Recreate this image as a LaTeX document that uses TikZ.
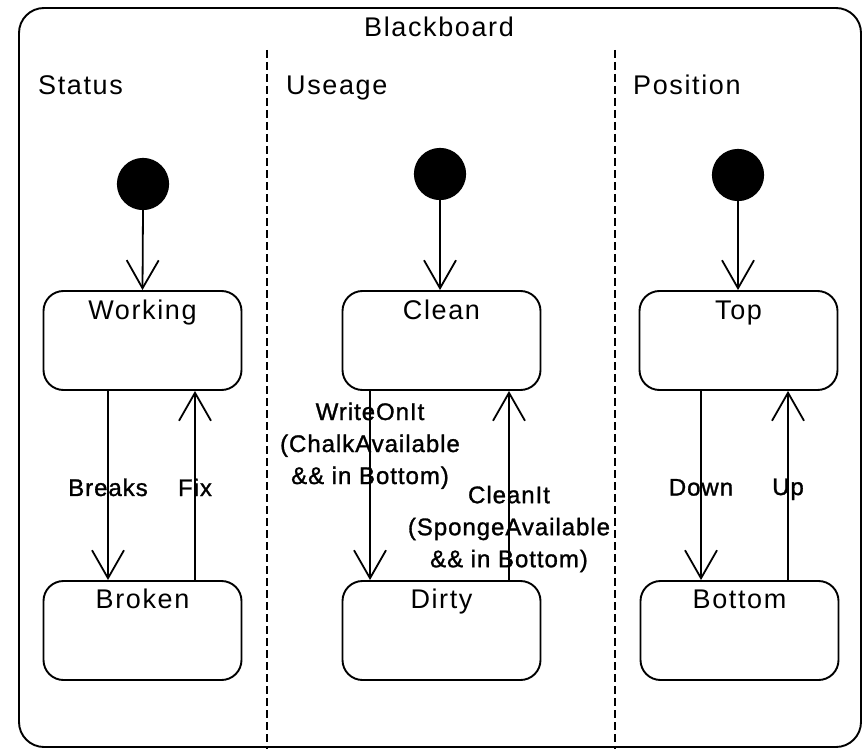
\documentclass[tikz,border=0pt]{standalone}
\usepackage{fontspec}
\setmainfont[LetterSpace=6]{Liberation Sans}
\newfontfamily\edgefont[FakeBold=1.2, LetterSpace=4]{Liberation Sans}
\usetikzlibrary{arrows.meta,calc}

\tikzset{
  frame/.style={draw, line width=1.9pt, rounded corners=25pt},
  divider/.style={draw, line width=1.5pt, dash pattern=on 8pt off 4pt},
  heading/.style={anchor=base west, inner sep=0pt, font=\fontsize{27}{32}\selectfont},
  title/.style={anchor=base, inner sep=0pt, font=\fontsize{27}{32}\selectfont},
  initstate/.style={circle, fill=black, draw=black, line width=1.2pt, minimum size=51pt, inner sep=0pt},
  statebox/.style={draw, line width=1.9pt, rounded corners=20pt, minimum width=198pt, minimum height=99pt, inner sep=0pt},
  stname/.style={anchor=base, inner sep=0pt, font=\fontsize{27}{32}\selectfont},
  trans/.style={draw, line width=1.8pt, -{Straight Barb[length=28pt, width=32pt, line width=1.8pt]}},
  tlabel/.style={inner sep=0pt, align=center, font=\edgefont\fontsize{24}{32}\selectfont},
}

\begin{document}
\begin{tikzpicture}[x=1pt, y=-1pt]
\useasboundingbox (0,0) rectangle (867,749);

% outer composite state
\draw[frame] (19,8) rectangle (861,747);
\node[title] (bbtitle) at (439,37) {Blackboard};

% region separators
\coordinate (d1top) at (267,50);
\coordinate (d1bot) at (267,749);
\coordinate (d2top) at (615,50);
\coordinate (d2bot) at (615,749);
\draw[divider] (d1top) -- (d1bot);
\draw[divider] (d2top) -- (d2bot);

% region headings
\node[heading] (hstatus) at (38,95) {Status};
\node[heading] (huse) at (286,95) {Useage};
\node[heading] (hpos) at (633,95) {Position};

% initial pseudo-states
\node[initstate] (i1) at (143,184) {};
\node[initstate] (i2) at (440,174) {};
\node[initstate] (i3) at (738,175) {};

% states
\node[statebox] (working) at (142.5,340.5) {};
\node[statebox] (broken)  at (142.5,630.5) {};
\node[statebox] (clean)   at (441.5,340.5) {};
\node[statebox] (dirty)   at (441.5,630.5) {};
\node[statebox] (top)     at (738.5,340.5) {};
\node[statebox] (bottom)  at (739.5,630.5) {};

\node[stname] (tworking) at ($(working.north)+(0,29)$) {Working};
\node[stname] (tbroken)  at ($(broken.north)+(0,28)$) {Broken};
\node[stname] (tclean)   at ($(clean.north)+(0,29)$) {Clean};
\node[stname] (tdirty)   at ($(dirty.north)+(0,28)$) {Dirty};
\node[stname] (ttop)     at ($(top.north)+(0,29)$) {Top};
\node[stname] (tbottom)  at ($(bottom.north)+(0,28)$) {Bottom};

% initial transitions
\draw[trans] (i1.south) -- (working.north);
\draw[trans] (i2.south) -- (i2.south |- clean.north);
\draw[trans] (i3.south) -- (i3.south |- top.north);

% Status transitions
\draw[trans] ($(working.south)+(-34.5,0)$) -- node[tlabel, pos=0.51] (lbreaks) {Breaks} ($(broken.north)+(-34.5,0)$);
\draw[trans] ($(broken.north)+(52.5,0)$) -- node[tlabel, pos=0.49] (lfix) {Fix} ($(working.south)+(52.5,0)$);

% Useage transitions
\draw[trans] ($(clean.south)+(-71.5,0)$) -- node[tlabel, pos=0.29] (lwrite) {WriteOnIt\\(ChalkAvailable\\\&\& in Bottom)} ($(dirty.north)+(-71.5,0)$);
\draw[trans] ($(dirty.north)+(67.5,0)$) -- node[tlabel, pos=0.27] (lcleanit) {CleanIt\\(SpongeAvailable\\\&\& in Bottom)} ($(clean.south)+(67.5,0)$);

% Position transitions
\draw[trans] ($(top.south)+(-37.5,0)$) -- node[tlabel, pos=0.51] (ldown) {Down} ($(bottom.north)+(-38.5,0)$);
\draw[trans] ($(bottom.north)+(48.5,0)$) -- node[tlabel, pos=0.48] (lup) {Up} ($(top.south)+(49.5,0)$);
\end{tikzpicture}
\end{document}
